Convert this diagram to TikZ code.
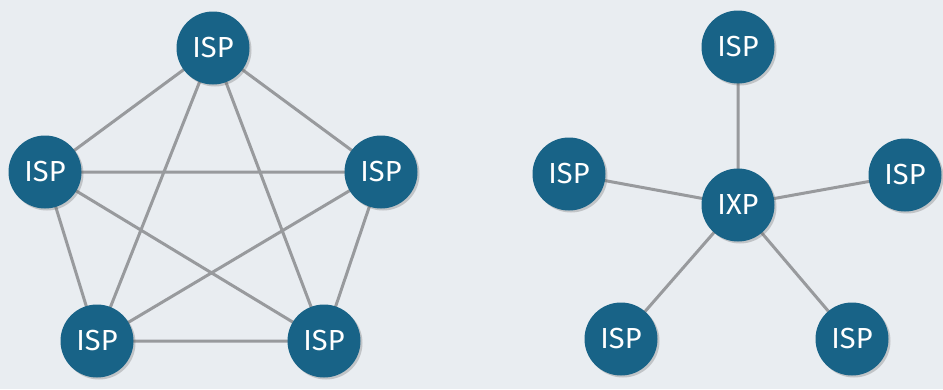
\documentclass[tikz,border=0pt]{standalone}
\usepackage{fontspec}
\setmainfont{Fira Sans}
\usetikzlibrary{shadows}
\definecolor{bg}{RGB}{233,237,241}
\definecolor{node}{RGB}{24,99,135}
\definecolor{link}{RGB}{152,154,157}
\tikzset{
  isp/.style={circle, fill=node, minimum size=73pt, inner sep=0pt, text=white,
    font=\fontsize{29}{29}\selectfont,
    drop shadow={shadow xshift=2pt, shadow yshift=-2pt, opacity=0.3, fill=black!60}},
  link/.style={draw=link, line width=3pt}
}
\begin{document}
\begin{tikzpicture}[x=1pt,y=-1pt]
\fill[bg] (0,0) rectangle (943,389);
\useasboundingbox (0,0) rectangle (943,389);
% left: full mesh
\coordinate (pT) at (213,48);
\coordinate (pL) at (45,172);
\coordinate (pR) at (381,172);
\coordinate (pBL) at (97,341);
\coordinate (pBR) at (324,341);
\draw[link] (pT) -- (pL) (pT) -- (pR) (pT) -- (pBL) (pT) -- (pBR)
  (pL) -- (pR) (pL) -- (pBL) (pL) -- (pBR)
  (pR) -- (pBL) (pR) -- (pBR) (pBL) -- (pBR);
\node[isp] (a1) at (pT) {ISP};
\node[isp] (a2) at (pL) {ISP};
\node[isp] (a3) at (pR) {ISP};
\node[isp] (a4) at (pBL) {ISP};
\node[isp] (a5) at (pBR) {ISP};
% right: star with IXP
\coordinate (qC) at (738,205);
\coordinate (qT) at (738,47);
\coordinate (qL) at (569,174);
\coordinate (qR) at (905,175);
\coordinate (qBL) at (621,339);
\coordinate (qBR) at (852,339);
\draw[link] (qC) -- (qT) (qC) -- (qL) (qC) -- (qR) (qC) -- (qBL) (qC) -- (qBR);
\node[isp] (b1) at (qT) {ISP};
\node[isp] (b2) at (qL) {ISP};
\node[isp] (b3) at (qR) {ISP};
\node[isp] (b4) at (qBL) {ISP};
\node[isp] (b5) at (qBR) {ISP};
\node[isp] (ix) at (qC) {IXP};
\end{tikzpicture}
\end{document}
